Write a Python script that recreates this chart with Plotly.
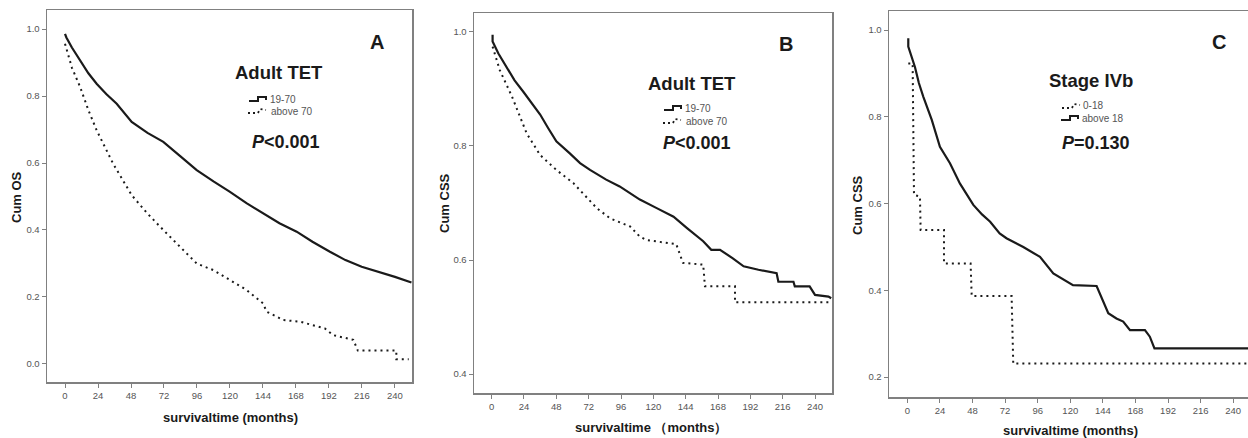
import plotly.graph_objects as go

W, H = 1248, 438

# ---------------- data ----------------
# Panel A: Cum OS, Adult TET
tA_1970 = [0, 1, 5, 11, 17, 23, 30, 37.6, 48.5, 60, 71.5, 84, 95.8, 108, 120, 132, 144, 156, 168.5, 180, 192.7, 204, 215.8, 228, 240, 252]
sA_1970 = [0.986, 0.975, 0.945, 0.907, 0.868, 0.837, 0.806, 0.777, 0.723, 0.69, 0.663, 0.62, 0.579, 0.545, 0.514, 0.48, 0.449, 0.42, 0.395, 0.365, 0.335, 0.31, 0.290, 0.275, 0.260, 0.243]
tA_70 = [0, 5, 11, 17, 23, 35, 48.5, 60, 71.5, 84, 95.8, 108, 120, 132, 144, 146.7, 158.8, 171, 189, 195, 209.7, 213, 241, 241, 250]
sA_70 = [0.956, 0.885, 0.827, 0.758, 0.698, 0.598, 0.504, 0.449, 0.400, 0.35, 0.300, 0.280, 0.250, 0.221, 0.181, 0.156, 0.131, 0.126, 0.106, 0.086, 0.072, 0.040, 0.040, 0.014, 0.014]

# Panel B: Cum CSS, Adult TET
tB_1970 = [0.7, 0.7, 5, 11, 17, 23.5, 30, 36, 42, 48, 58, 65.6, 73, 85, 95, 110, 122.5, 135, 145, 157, 163, 169.5, 179, 187, 198, 206.6, 211.5, 212.8, 224, 225, 236, 240, 250, 252]
sB_1970 = [0.995, 0.983, 0.962, 0.939, 0.915, 0.895, 0.874, 0.855, 0.831, 0.808, 0.787, 0.770, 0.758, 0.741, 0.729, 0.706, 0.691, 0.676, 0.656, 0.633, 0.618, 0.618, 0.603, 0.589, 0.583, 0.580, 0.577, 0.562, 0.562, 0.554, 0.554, 0.539, 0.536, 0.533]
tB_70 = [0.7, 6, 15, 26, 36, 48, 60.6, 70.5, 78, 88, 102.7, 110, 115, 137, 142, 157, 158.3, 180.6, 180.6, 252]
sB_70 = [0.974, 0.933, 0.887, 0.822, 0.784, 0.758, 0.735, 0.711, 0.691, 0.673, 0.659, 0.641, 0.635, 0.628, 0.595, 0.592, 0.554, 0.554, 0.526, 0.526]

# Panel C: Cum CSS, Stage IVb
tC_18 = [0.7, 3.9, 4.9, 9.3, 9.8, 27, 27, 46.6, 47.4, 76.8, 78, 252]
sC_18 = [0.923, 0.923, 0.620, 0.616, 0.539, 0.539, 0.462, 0.462, 0.387, 0.387, 0.231, 0.231]
tC_above18 = [0.7, 0.7, 5.6, 8.5, 11.8, 15, 18, 24, 31.4, 38.8, 48.6, 55, 61, 68, 73, 85.4, 97.7, 107.5, 117, 122, 139.4, 144, 148, 154, 159, 164, 175, 178.6, 182, 252]
sC_above18 = [0.981, 0.962, 0.915, 0.878, 0.846, 0.818, 0.793, 0.731, 0.693, 0.646, 0.597, 0.575, 0.558, 0.531, 0.520, 0.500, 0.477, 0.439, 0.420, 0.412, 0.410, 0.378, 0.347, 0.335, 0.328, 0.308, 0.308, 0.293, 0.266, 0.266]

x_ticks = [0, 24, 48, 72, 96, 120, 144, 168, 192, 216, 240]
yA_ticks = [0.0, 0.2, 0.4, 0.6, 0.8, 1.0]
yB_ticks = [0.4, 0.6, 0.8, 1.0]
yC_ticks = [0.2, 0.4, 0.6, 0.8, 1.0]

# ---------------- helpers ----------------
def px(x):
    return x / W

def py(y):
    return 1 - y / H

FONT = "Liberation Sans, Arial, sans-serif"
INK = "#1a1a1a"
FRAME = "#808080"
TICKC = "#555555"

fig = go.Figure()

def curve(t, s, xa, ya, dotted):
    fig.add_trace(go.Scatter(
        x=t, y=s, mode="lines", xaxis=xa, yaxis=ya, showlegend=False,
        line=dict(color=INK, width=2.2 if not dotted else 2,
                  dash="2px,4px" if dotted else "solid"),
        hoverinfo="skip"))

curve(tA_1970, sA_1970, "x", "y", False)
curve(tA_70, sA_70, "x", "y", True)
curve(tB_1970, sB_1970, "x2", "y2", False)
curve(tB_70, sB_70, "x2", "y2", True)
curve(tC_above18, sC_above18, "x3", "y3", False)
curve(tC_18, sC_18, "x3", "y3", True)

panels = [
    ("xaxis", "yaxis", (47, 412), (10, 382), [-13.1, 252.4], [-0.054, 1.057], yA_ticks, True, "y", "x"),
    ("xaxis2", "yaxis2", (474, 832), (13, 393), [-13.1, 252.6], [0.367, 1.033], yB_ticks, True, "y2", "x2"),
    ("xaxis3", "yaxis3", (889, 1248), (11, 397), [-13.5, 250.9], [0.154, 1.044], yC_ticks, False, "y3", "x3"),
]

layout_axes = {}
for xk, yk, xp, yp, xr, yr, yt, mir, yanch, xanch in panels:
    layout_axes[xk] = dict(
        domain=[px(xp[0]), px(xp[1])], range=xr, anchor=yanch,
        tickvals=x_ticks, ticktext=[str(v) for v in x_ticks],
        showgrid=False, zeroline=False, showline=True, mirror=True,
        linecolor=FRAME, linewidth=1.5, ticks="outside", ticklen=4,
        tickcolor=FRAME, tickwidth=1,
        tickfont=dict(family=FONT, size=9.5, color=TICKC), fixedrange=True)
    layout_axes[yk] = dict(
        domain=[py(yp[1]), py(yp[0])], range=yr, anchor=xanch,
        tickvals=yt, ticktext=["%.1f" % v for v in yt],
        showgrid=False, zeroline=False, showline=True, mirror=mir,
        linecolor=FRAME, linewidth=1.5, ticks="outside", ticklen=4,
        tickcolor=FRAME, tickwidth=1,
        tickfont=dict(family=FONT, size=9.5, color=TICKC), fixedrange=True)

annotations = []
def text(x, y, s, size, bold=False, color=INK, anchor="center", angle=0):
    annotations.append(dict(
        x=px(x), y=py(y), xref="paper", yref="paper", text=s, showarrow=False,
        xanchor=anchor, yanchor="middle", textangle=angle,
        font=dict(family=FONT, size=size, color=color)))

# panel letters
text(377, 42, "<b>A</b>", 20)
text(786, 44, "<b>B</b>", 20)
text(1219, 42, "<b>C</b>", 20)

# titles
text(279, 73, "<b>Adult TET</b>", 18.5)
text(692, 83, "<b>Adult TET</b>", 18.5)
text(1091, 81, "<b>Stage IVb</b>", 18.5)

# p values
text(286, 142, "<b><i>P</i>&lt;0.001</b>", 18)
text(697, 143, "<b><i>P</i>&lt;0.001</b>", 18)
text(1096, 143, "<b><i>P</i>=0.130</b>", 18)

# legend labels
text(268, 99, "19-70", 10, color=TICKC, anchor="left")
text(269, 111, "above 70", 10, color=TICKC, anchor="left")
text(683, 108, "19-70", 10, color=TICKC, anchor="left")
text(684, 121, "above 70", 10, color=TICKC, anchor="left")
text(1081, 106, "0-18", 10, color=TICKC, anchor="left")
text(1080, 118, "above 18", 10, color=TICKC, anchor="left")

# axis titles
text(230, 417, "<b>survivaltime (months)</b>", 13)
text(651, 427, "<b>survivaltime （months）</b>", 13)
text(1070, 430, "<b>survivaltime (months)</b>", 13)
text(17, 197, "<b>Cum OS</b>", 13, angle=-90)
text(444, 203, "<b>Cum CSS</b>", 13, angle=-90)
text(858, 205, "<b>Cum CSS</b>", 13, angle=-90)

shapes = []
def path(points, dotted):
    d = "M" + " L".join("%.5f,%.5f" % (px(a), py(b)) for a, b in points)
    shapes.append(dict(type="path", path=d, xref="paper", yref="paper",
                       line=dict(color=INK, width=2 if not dotted else 1.8,
                                 dash="2px,3px" if dotted else "solid")))

def solid_sym(x0, y):
    path([(x0, y + 2), (x0 + 9, y + 2), (x0 + 9, y - 2), (x0 + 17, y - 2), (x0 + 17, y + 1)], False)

def dotted_sym(x0, y):
    path([(x0, y + 2), (x0 + 10, y + 2), (x0 + 12, y - 2), (x0 + 18, y - 1)], True)

solid_sym(249, 99)
dotted_sym(248, 111)
solid_sym(664, 108)
dotted_sym(663, 121)
dotted_sym(1062, 106)
solid_sym(1061, 118)

fig.update_layout(
    width=W, height=H, margin=dict(l=0, r=0, t=0, b=0),
    paper_bgcolor="white", plot_bgcolor="white",
    annotations=annotations, shapes=shapes, showlegend=False,
    **layout_axes)

fig.write_html("out.html",
               config={"displayModeBar": False, "staticPlot": True},
               post_script="document.body.style.margin='0';document.body.style.padding='0';document.body.style.overflow='hidden';")
